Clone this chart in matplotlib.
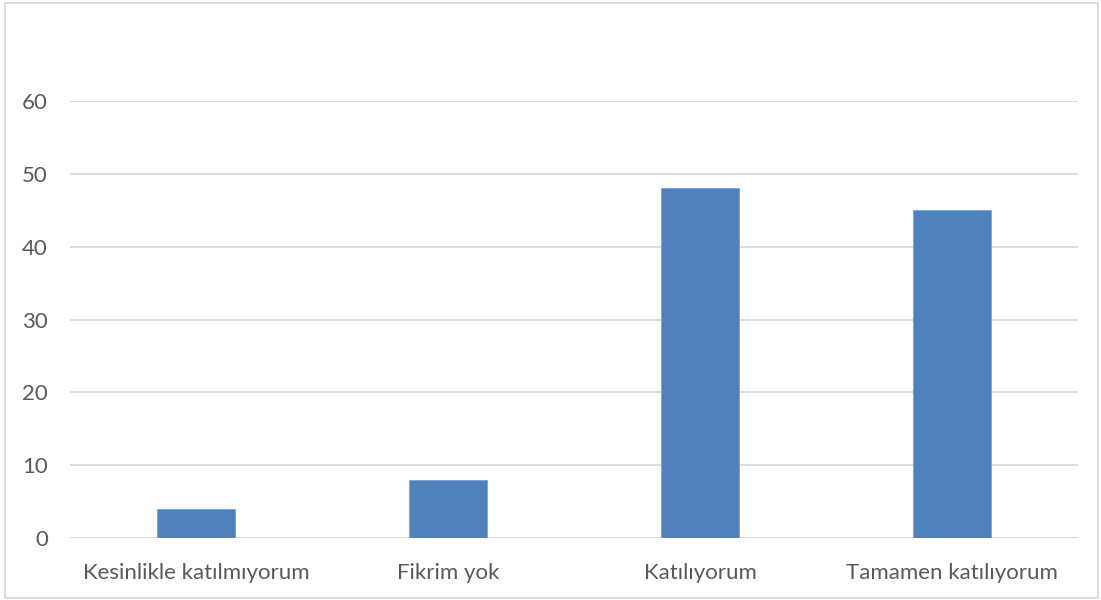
import matplotlib
matplotlib.use("Agg")
import matplotlib.pyplot as plt
from matplotlib.patches import Rectangle

categories = ["Kesinlikle katılmıyorum", "Fikrim yok", "Katılıyorum", "Tamamen katılıyorum"]
values = [4, 8, 48, 45]
yticks = [0, 10, 20, 30, 40, 50, 60]

bar_color = "#4F81BD"
grid_color = "#D9D9D9"
text_color = "#595959"

plt.rcParams["font.family"] = ["Lato", "DejaVu Sans"]

W, H = 1101, 600
fig = plt.figure(figsize=(W / 100, H / 100), dpi=100)
ax = fig.add_axes([70 / W, 62 / H, 1008 / W, 437 / H])

x = list(range(len(categories)))
ax.bar(x, values, width=0.31, color=bar_color, edgecolor="#7FA3D1", linewidth=0.6, zorder=3)

ax.set_xlim(-0.5, len(categories) - 0.5)
ax.set_ylim(0, 60)
ax.set_yticks(yticks)
ax.set_xticks(x)
ax.set_xticklabels(categories)

ax.yaxis.grid(True, color=grid_color, linewidth=1.3, zorder=0)
for s in ax.spines.values():
    s.set_visible(False)
ax.tick_params(axis="both", length=0, colors=text_color, labelsize=16)
ax.tick_params(axis="y", pad=16)
ax.tick_params(axis="x", pad=18)

fig.patches.append(Rectangle((5 / W, 2 / H), 1093 / W, 595 / H, transform=fig.transFigure,
                             fill=False, edgecolor=grid_color, linewidth=1.3))

fig.savefig("out.png", dpi=100, facecolor="white")
